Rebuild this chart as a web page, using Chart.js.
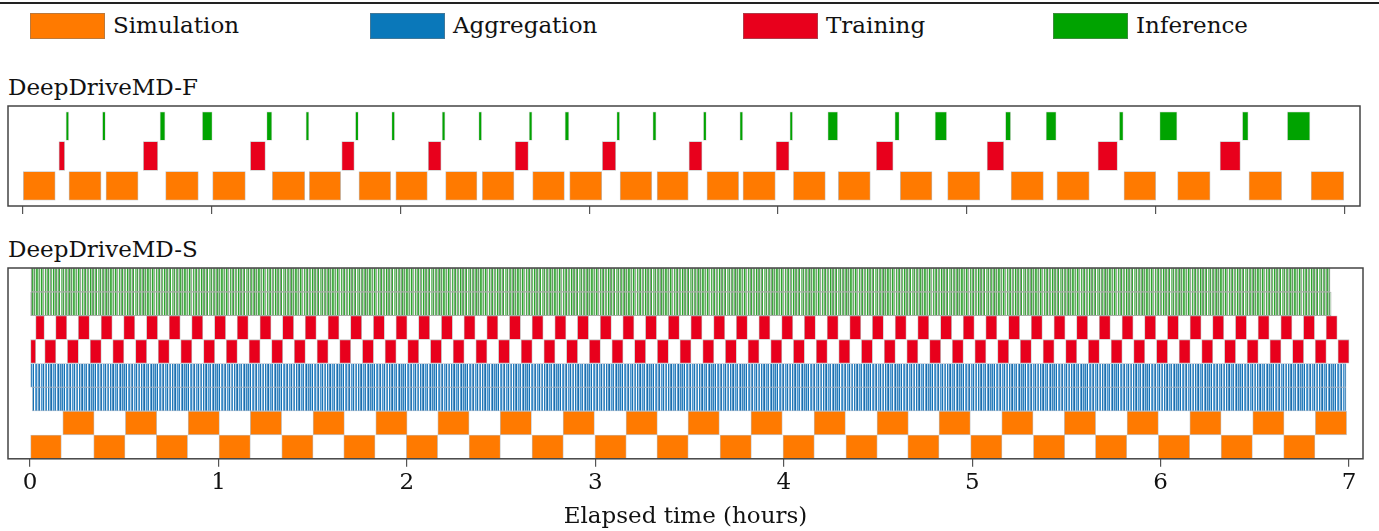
<!DOCTYPE html>
<html>
<head>
<meta charset="utf-8">
<script src="https://cdn.jsdelivr.net/npm/chart.js@4.4.1/dist/chart.umd.min.js"></script>
<style>
  body { margin: 0; background: #fff; width: 1379px; height: 531px; overflow: hidden; position: relative; font-family: "DejaVu Serif", serif; color: #111; }
  .abs { position: absolute; }
  .txt { font-size: 23px; line-height: 23px; white-space: nowrap; }
  .swatch { width: 75px; height: 26px; box-sizing: border-box; border: 1px solid rgba(120,120,120,0.5); }
</style>
</head>
<body>
<div class="abs" style="left:0;top:2px;width:1379px;height:2px;background:#222"></div>
<div id="legend"></div>
<div class="abs txt" style="left:8px;top:76px">DeepDriveMD-F</div>
<div class="abs txt" style="left:8px;top:238px">DeepDriveMD-S</div>
<div class="abs" style="left:0;top:100px;width:1379px;height:114px"><canvas id="chartF"></canvas></div>
<div class="abs" style="left:0;top:262px;width:1379px;height:269px"><canvas id="chartS"></canvas></div>
<script>
// Colours
const ORANGE = "#ff7a00";
const BLUE = "#0a78ba";
const RED = "#e8001c";
const GREEN = "#00a300";
const EDGE = "rgba(140,140,140,0.55)";

// Legend
const legendNames = ["Simulation", "Aggregation", "Training", "Inference"];
const legendColors = [ORANGE, BLUE, RED, GREEN];
const legendX = [30, 370, 743, 1053];

// Axis ticks (hours)
const xTicks = [0, 1, 2, 3, 4, 5, 6, 7];

// ---- DeepDriveMD-F: [start, end] in hours ----
const simF = [[0.000, 0.172], [0.245, 0.415], [0.441, 0.611], [0.757, 0.930], [1.006, 1.179],
  [1.322, 1.494], [1.518, 1.684], [1.781, 1.949], [1.976, 2.143], [2.240, 2.406], [2.434, 2.602],
  [2.701, 2.869], [2.897, 3.067], [3.164, 3.332], [3.360, 3.525], [3.624, 3.792], [3.815, 3.986],
  [4.082, 4.251], [4.320, 4.489], [4.648, 4.816], [4.899, 5.070], [5.235, 5.406], [5.478, 5.649],
  [5.833, 6.001], [6.117, 6.289], [6.495, 6.668], [6.824, 6.997]];
const trainF = [[0.192, 0.222], [0.639, 0.715], [1.206, 1.285], [1.690, 1.756], [2.148, 2.216],
  [2.608, 2.678], [3.070, 3.141], [3.529, 3.598], [3.990, 4.059], [4.521, 4.610], [5.108, 5.196],
  [5.695, 5.798], [6.342, 6.449]];
const inferF = [[0.229, 0.244], [0.422, 0.438], [0.727, 0.754], [0.951, 1.004], [1.292, 1.320],
  [1.500, 1.516], [1.762, 1.778], [1.954, 1.970], [2.221, 2.237], [2.415, 2.431], [2.682, 2.698],
  [2.872, 2.893], [3.146, 3.162], [3.337, 3.355], [3.605, 3.621], [3.798, 3.814], [4.063, 4.078],
  [4.264, 4.317], [4.619, 4.643], [4.832, 4.894], [5.205, 5.233], [5.420, 5.474], [5.808, 5.829],
  [6.022, 6.114], [6.460, 6.491], [6.698, 6.818]];

// ---- DeepDriveMD-S ----
// simulation starts on the two pipelines (hours), each lasting simDurS
const simSA = [0.000, 0.338, 0.670, 1.003, 1.336, 1.665, 1.997, 2.330, 2.664, 2.998, 3.327,
  3.662, 3.996, 4.330, 4.658, 4.992, 5.325, 5.654, 5.988, 6.321, 6.653];
const simSB = [0.174, 0.506, 0.839, 1.169, 1.502, 1.835, 2.164, 2.495, 2.829, 3.163, 3.492,
  3.826, 4.161, 4.495, 4.824, 5.157, 5.489, 5.822, 6.155, 6.489, 6.821];
const simDurS = 0.166;

// training starts (hours), each lasting trainDurS; first runs are shorter
const trainSAFirst = [0.030, 0.076];
const trainSA = [0.136, 0.256, 0.377, 0.497, 0.618, 0.738, 0.858, 0.979, 1.099, 1.220, 1.340,
  1.460, 1.581, 1.701, 1.822, 1.942, 2.062, 2.183, 2.303, 2.424, 2.544, 2.664, 2.785, 2.905,
  3.026, 3.146, 3.266, 3.387, 3.507, 3.628, 3.748, 3.868, 3.989, 4.109, 4.230, 4.350, 4.470,
  4.591, 4.711, 4.832, 4.952, 5.072, 5.193, 5.313, 5.434, 5.554, 5.674, 5.795, 5.915, 6.036,
  6.156, 6.276, 6.397, 6.517, 6.638, 6.758, 6.878];
const trainSBFirst = [0.000, 0.030];
const trainSB = [0.078, 0.198, 0.319, 0.439, 0.560, 0.680, 0.800, 0.921, 1.041, 1.162, 1.282,
  1.402, 1.523, 1.643, 1.764, 1.884, 2.004, 2.125, 2.245, 2.366, 2.486, 2.606, 2.727, 2.847,
  2.968, 3.088, 3.208, 3.329, 3.449, 3.570, 3.690, 3.810, 3.931, 4.051, 4.172, 4.292, 4.412,
  4.533, 4.653, 4.774, 4.894, 5.014, 5.135, 5.255, 5.376, 5.496, 5.616, 5.737, 5.857, 5.978,
  6.098, 6.218, 6.339, 6.459, 6.580, 6.700, 6.820, 6.941];
const trainDurS = 0.059;

// dense streams of tiny tasks: overall [start, end] span of each pipeline
const inferSA = [0.005, 6.899];
const inferSB = [0.000, 6.905];
const aggSA = [0.000, 6.984];
const aggSB = [0.012, 6.984];

// Stripe colours for the dense rows (texture only)
const greenStripes = ["#5fb85f", "#a8dca8", "#7a9a7a", "#d8f0d8", "#2ea62e", "#8fcf8f", "#9aa89a",
  "#eef8ee", "#4cb04c", "#b4e0b4", "#829f82", "#3aab3a", "#cbeccb", "#8f998f", "#6cc06c", "#e6f5e6",
  "#2fa32f", "#a2d6a2", "#7d977d", "#56b456", "#c0e6c0", "#8a9a8a", "#36a736", "#ffffff", "#78c478",
  "#9cc59c", "#4aa24a", "#d6f0d6", "#7f9c7f", "#5ab95a", "#b0dcb0", "#8f9f8f", "#3ea83e", "#a0d8a0",
  "#6e8e6e", "#c8eac8", "#44ad44"];
const blueStripes = ["#2a7fbd", "#9ccaeb", "#1570b3", "#ffffff", "#5ea2d4", "#3a88c5", "#b6d8f1",
  "#6d9ac0", "#2377b6", "#e8f3fb", "#4f95cd", "#8bbde2", "#1b73b3", "#cfe5f5", "#7aa6cb", "#3a8cc8",
  "#ffffff", "#2279b8", "#a6cdeb", "#5a91bd", "#176fb0", "#c4dff3", "#4a95cf", "#80b5dc", "#2a7cb8",
  "#f2f8fd", "#6aa3d0", "#1a6eae", "#aad2ee", "#3a84bd", "#86b2d3"];

function stripePattern(cols) {
  const c = document.createElement("canvas");
  c.width = cols.length;
  c.height = 4;
  const g = c.getContext("2d");
  cols.forEach((col, i) => {
    g.fillStyle = col;
    g.fillRect(i, 0, 1, 4);
  });
  return g.createPattern(c, "repeat");
}

// Build legend
const legendDiv = document.querySelector("#legend");
legendNames.forEach((name, i) => {
  const sw = document.createElement("div");
  sw.className = "abs swatch";
  sw.style.left = legendX[i] + "px";
  sw.style.top = "13px";
  sw.style.background = legendColors[i];
  legendDiv.appendChild(sw);
  const t = document.createElement("div");
  t.className = "abs txt";
  t.style.left = legendX[i] + 83 + "px";
  t.style.top = "14px";
  t.innerText = name;
  legendDiv.appendChild(t);
});

// Frame around plot area
const boxPlugin = {
  id: "box",
  afterDatasetsDraw(chart) {
    const { ctx, chartArea: a } = chart;
    ctx.save();
    ctx.strokeStyle = "#444";
    ctx.lineWidth = 1.5;
    ctx.strokeRect(a.left, a.top, a.right - a.left, a.bottom - a.top);
    ctx.restore();
  },
};

function rowSet(pairs, row, color, edge) {
  return {
    data: pairs.map((p) => ({ x: p, y: row })),
    backgroundColor: color,
    borderColor: edge,
    borderWidth: 0.8,
    borderSkipped: false,
    grouped: false,
  };
}

function xScale(min, max, showLabels) {
  return {
    type: "linear",
    min: min,
    max: max,
    afterBuildTicks: (scale) => {
      scale.ticks = xTicks.map((v) => ({ value: v }));
    },
    grid: { drawOnChartArea: false, drawTicks: true, tickLength: 8, color: "#555", lineWidth: 1.2 },
    border: { display: false },
    ticks: {
      display: showLabels,
      padding: 2,
      color: "#111",
      font: { family: "DejaVu Serif", size: 23 },
    },
    title: {
      display: showLabels,
      text: "Elapsed time (hours)",
      color: "#111",
      font: { family: "DejaVu Serif", size: 23 },
      padding: { top: 5, bottom: 0 },
    },
  };
}

const commonOptions = {
  indexAxis: "y",
  responsive: true,
  maintainAspectRatio: false,
  animation: false,
  plugins: { legend: { display: false }, tooltip: { enabled: false } },
};

// Chart F
const rowsF = ["Inference", "Training", "Simulation"];
new Chart(document.getElementById("chartF"), {
  type: "bar",
  data: {
    datasets: [
      rowSet(simF, rowsF.indexOf("Simulation"), ORANGE, EDGE),
      rowSet(trainF, rowsF.indexOf("Training"), RED, EDGE),
      rowSet(inferF, rowsF.indexOf("Inference"), GREEN, "rgba(140,140,140,0.3)"),
    ],
  },
  options: {
    ...commonOptions,
    layout: { padding: { left: 8, right: 19, top: 6, bottom: 0 } },
    datasets: { bar: { barThickness: 28.7 } },
    scales: {
      x: xScale(-0.078, 7.083, false),
      y: { type: "linear", offset: false, min: -0.67, max: 2.67, reverse: true, display: false },
    },
  },
  plugins: [boxPlugin],
});

// Chart S
const rowsS = ["inferA", "inferB", "trainA", "trainB", "aggA", "aggB", "simB", "simA"];
const greenPat = stripePattern(greenStripes);
const bluePat = stripePattern(blueStripes);
const DENSE_EDGE = "rgba(100,110,100,0.55)";
new Chart(document.getElementById("chartS"), {
  type: "bar",
  data: {
    datasets: [
      rowSet([inferSA], rowsS.indexOf("inferA"), greenPat, DENSE_EDGE),
      rowSet([inferSB], rowsS.indexOf("inferB"), greenPat, DENSE_EDGE),
      rowSet([trainSAFirst].concat(trainSA.map((s) => [s, s + trainDurS])), rowsS.indexOf("trainA"), RED, EDGE),
      rowSet([trainSBFirst].concat(trainSB.map((s) => [s, s + trainDurS])), rowsS.indexOf("trainB"), RED, EDGE),
      rowSet([aggSA], rowsS.indexOf("aggA"), bluePat, "rgba(90,120,150,0.5)"),
      rowSet([aggSB], rowsS.indexOf("aggB"), bluePat, "rgba(90,120,150,0.5)"),
      rowSet(simSB.map((s) => [s, s + simDurS]), rowsS.indexOf("simB"), ORANGE, EDGE),
      rowSet(simSA.map((s) => [s, s + simDurS]), rowsS.indexOf("simA"), ORANGE, EDGE),
    ],
  },
  options: {
    ...commonOptions,
    layout: { padding: { left: 8, right: 16, top: 6, bottom: 0 } },
    datasets: { bar: { barThickness: 23.6 } },
    scales: {
      x: xScale(-0.117, 7.074, true),
      y: { type: "linear", offset: false, min: -0.5, max: 7.5, reverse: true, display: false },
    },
  },
  plugins: [boxPlugin],
});
</script>
</body>
</html>
